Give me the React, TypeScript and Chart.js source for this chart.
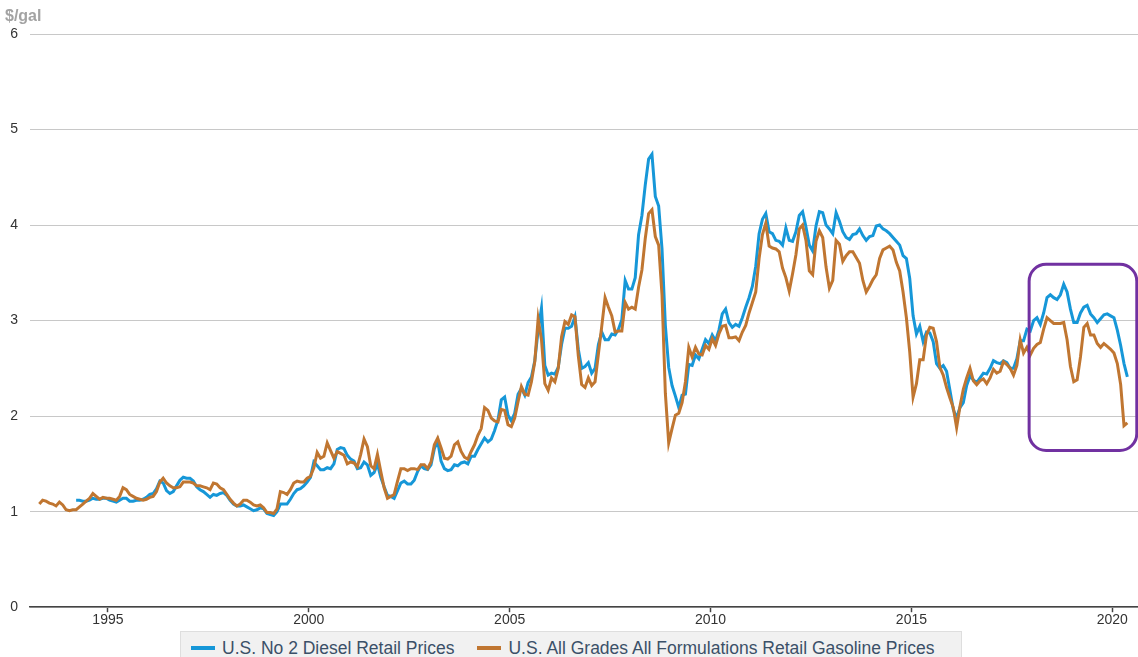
import React, { useEffect, useRef } from "react";
import { Chart, registerables } from "chart.js";

Chart.register(...registerables);

// ---------- data ----------
const UNIT_LABEL = "$/gal";
const SERIES_NAMES = [
  "U.S. No 2 Diesel Retail Prices",
  "U.S. All Grades All Formulations Retail Gasoline Prices",
];
const SERIES_COLORS = ["#1697d8", "#c07631"];

// monthly values, first value is for the start month
const DIESEL_START = { year: 1994, month: 3 };
const DIESEL = [
  1.12, 1.12, 1.11, 1.11, 1.12, 1.14, 1.13, 1.13, 1.14, 1.14,
  1.12, 1.11, 1.10, 1.12, 1.14, 1.14, 1.11, 1.11, 1.12, 1.12, 1.13, 1.15,
  1.18, 1.19, 1.24, 1.32, 1.30, 1.22, 1.19, 1.21, 1.27, 1.33, 1.36, 1.35,
  1.35, 1.32, 1.26, 1.23, 1.21, 1.18, 1.15, 1.18, 1.17, 1.19, 1.20, 1.17,
  1.12, 1.08, 1.06, 1.06, 1.07, 1.05, 1.03, 1.01, 1.02, 1.04, 1.03, 0.98,
  0.97, 0.96, 1.00, 1.08, 1.08, 1.08, 1.13, 1.19, 1.23, 1.24, 1.27, 1.31,
  1.36, 1.52, 1.48, 1.44, 1.44, 1.46, 1.45, 1.50, 1.65, 1.67, 1.66, 1.59,
  1.55, 1.53, 1.45, 1.46, 1.52, 1.49, 1.38, 1.41, 1.50, 1.36, 1.26, 1.17,
  1.16, 1.14, 1.22, 1.30, 1.32, 1.29, 1.29, 1.33, 1.42, 1.48, 1.45, 1.44,
  1.49, 1.66, 1.74, 1.53, 1.45, 1.43, 1.44, 1.49, 1.48, 1.51, 1.52, 1.50,
  1.58, 1.58, 1.65, 1.71, 1.77, 1.73, 1.76, 1.85, 1.96, 2.17, 2.20, 2.01,
  1.95, 2.03, 2.23, 2.29, 2.22, 2.35, 2.41, 2.58, 2.90, 3.13, 2.53, 2.43,
  2.45, 2.44, 2.51, 2.75, 2.92, 2.92, 2.94, 3.04, 2.70, 2.50, 2.52, 2.56,
  2.45, 2.50, 2.75, 2.88, 2.80, 2.80, 2.86, 2.85, 2.91, 3.01, 3.42, 3.33,
  3.33, 3.45, 3.90, 4.10, 4.42, 4.69, 4.74, 4.30, 4.20, 3.75, 2.95, 2.51,
  2.32, 2.21, 2.09, 2.22, 2.23, 2.54, 2.53, 2.64, 2.60, 2.70, 2.80, 2.76,
  2.85, 2.79, 2.90, 3.07, 3.12, 2.98, 2.93, 2.96, 2.94, 3.03, 3.14, 3.24,
  3.36, 3.57, 3.91, 4.06, 4.12, 3.93, 3.91, 3.84, 3.83, 3.79, 3.97, 3.84,
  3.83, 3.93, 4.10, 4.14, 3.98, 3.79, 3.73, 3.99, 4.14, 4.13, 4.00, 3.96,
  3.91, 4.13, 4.04, 3.93, 3.87, 3.85, 3.90, 3.91, 3.96, 3.89, 3.84, 3.88,
  3.89, 3.99, 4.00, 3.96, 3.94, 3.91, 3.87, 3.83, 3.79, 3.68, 3.65, 3.44,
  3.05, 2.86, 2.94, 2.78, 2.88, 2.87, 2.78, 2.55, 2.50, 2.53, 2.47, 2.27,
  2.07, 1.98, 2.09, 2.14, 2.32, 2.42, 2.38, 2.35, 2.40, 2.45, 2.44, 2.50,
  2.58, 2.56, 2.55, 2.58, 2.56, 2.50, 2.50, 2.60, 2.79, 2.79, 2.91, 2.89,
  3.00, 3.03, 2.96, 3.08, 3.24, 3.27, 3.24, 3.22, 3.27, 3.38, 3.30, 3.12,
  2.98, 2.98, 3.08, 3.14, 3.16, 3.07, 3.03, 2.98, 3.02, 3.06, 3.07, 3.05,
  3.03, 2.90, 2.74, 2.55, 2.41,
];

const GAS_START = { year: 1993, month: 4 };
const GASOLINE = [
  1.08, 1.12, 1.11, 1.09, 1.08, 1.06, 1.10, 1.07, 1.02,
  1.01, 1.02, 1.02, 1.05, 1.08, 1.11, 1.14, 1.19, 1.16, 1.13, 1.15, 1.14,
  1.14, 1.13, 1.12, 1.16, 1.25, 1.23, 1.18, 1.16, 1.14, 1.13, 1.12, 1.13,
  1.15, 1.16, 1.21, 1.31, 1.35, 1.30, 1.27, 1.25, 1.25, 1.26, 1.31, 1.31,
  1.31, 1.30, 1.27, 1.27, 1.26, 1.25, 1.23, 1.30, 1.29, 1.25, 1.23, 1.18,
  1.13, 1.09, 1.06, 1.08, 1.12, 1.12, 1.10, 1.07, 1.06, 1.07, 1.04, 0.99,
  0.99, 0.98, 1.03, 1.21, 1.20, 1.18, 1.23, 1.30, 1.32, 1.31, 1.31, 1.35,
  1.37, 1.46, 1.62, 1.56, 1.58, 1.72, 1.64, 1.56, 1.63, 1.61, 1.59, 1.50,
  1.52, 1.51, 1.47, 1.60, 1.76, 1.68, 1.48, 1.45, 1.60, 1.42, 1.25, 1.14,
  1.16, 1.18, 1.32, 1.45, 1.45, 1.43, 1.45, 1.45, 1.44, 1.49, 1.49, 1.45,
  1.52, 1.70, 1.77, 1.67, 1.56, 1.55, 1.58, 1.70, 1.73, 1.63, 1.57, 1.55,
  1.63, 1.70, 1.80, 1.87, 2.09, 2.06, 1.98, 1.95, 1.94, 2.07, 2.06, 1.91,
  1.89, 1.98, 2.15, 2.31, 2.23, 2.22, 2.36, 2.57, 3.02, 2.80, 2.34, 2.27,
  2.40, 2.36, 2.50, 2.83, 2.99, 2.96, 3.06, 3.04, 2.63, 2.33, 2.30, 2.40,
  2.32, 2.36, 2.65, 2.94, 3.24, 3.14, 3.05, 2.88, 2.89, 2.89, 3.19, 3.12,
  3.14, 3.12, 3.35, 3.53, 3.86, 4.12, 4.16, 3.88, 3.79, 3.27, 2.24, 1.72,
  1.87, 2.01, 2.03, 2.14, 2.36, 2.72, 2.62, 2.72, 2.65, 2.64, 2.74, 2.70,
  2.81, 2.74, 2.86, 2.94, 2.95, 2.82, 2.82, 2.83, 2.79, 2.88, 2.95, 3.08,
  3.19, 3.30, 3.65, 3.90, 4.02, 3.78, 3.76, 3.75, 3.72, 3.55, 3.45, 3.31,
  3.49, 3.69, 3.96, 4.00, 3.84, 3.52, 3.48, 3.83, 3.94, 3.87, 3.56, 3.34,
  3.42, 3.84, 3.80, 3.62, 3.68, 3.72, 3.72, 3.66, 3.60, 3.42, 3.30, 3.36,
  3.43, 3.48, 3.65, 3.74, 3.76, 3.78, 3.74, 3.61, 3.52, 3.30, 3.03, 2.67,
  2.20, 2.34, 2.59, 2.59, 2.85, 2.93, 2.92, 2.78, 2.51, 2.43, 2.30, 2.19,
  2.09, 1.88, 2.10, 2.28, 2.40, 2.50, 2.37, 2.33, 2.37, 2.39, 2.34, 2.40,
  2.49, 2.45, 2.47, 2.57, 2.54, 2.50, 2.43, 2.53, 2.80, 2.66, 2.72, 2.64,
  2.71, 2.75, 2.77, 2.91, 3.03, 3.00, 2.97, 2.97, 2.97, 2.98, 2.80, 2.52,
  2.36, 2.38, 2.62, 2.93, 2.97, 2.85, 2.85, 2.76, 2.72, 2.76, 2.73, 2.70,
  2.66, 2.55, 2.33, 1.90, 1.93,
];

const X_TICKS = [1995, 2000, 2005, 2010, 2015, 2020];
const Y_TICKS = [0, 1, 2, 3, 4, 5, 6];
const X_RANGE = [1993.06, 2020.64];
const Y_RANGE = [0, 6];
// highlighted region (data coordinates)
const HIGHLIGHT = { xFrom: 2017.93, xTo: 2020.61, yFrom: 1.64, yTo: 3.59 };

const FONT = "'Liberation Sans', Arial, Helvetica, sans-serif";

function toPoints(start: { year: number; month: number }, values: number[]) {
  return values.map((v, i) => ({
    x: start.year + (start.month - 1 + i + 0.5) / 12,
    y: v,
  }));
}

const unitLabelPlugin = {
  id: "unitLabel",
  afterDraw(chart: any) {
    const ctx = chart.ctx;
    ctx.save();
    ctx.font = `bold 16px ${FONT}`;
    ctx.fillStyle = "#a3a3a3";
    ctx.textBaseline = "alphabetic";
    ctx.textAlign = "left";
    ctx.fillText(UNIT_LABEL, 5, 21);
    ctx.restore();
  },
};

const highlightPlugin = {
  id: "highlightBox",
  afterDatasetsDraw(chart: any) {
    const { ctx, scales } = chart;
    const x0 = scales.x.getPixelForValue(HIGHLIGHT.xFrom);
    const x1 = scales.x.getPixelForValue(HIGHLIGHT.xTo);
    const y0 = scales.y.getPixelForValue(HIGHLIGHT.yTo);
    const y1 = scales.y.getPixelForValue(HIGHLIGHT.yFrom);
    ctx.save();
    ctx.strokeStyle = "#7131a1";
    ctx.lineWidth = 3;
    ctx.beginPath();
    ctx.roundRect(x0, y0, x1 - x0, y1 - y0, 17);
    ctx.stroke();
    ctx.restore();
  },
};

export default function App() {
  const canvasRef = useRef<HTMLCanvasElement | null>(null);

  useEffect(() => {
    if (!canvasRef.current) return;
    Chart.defaults.font.family = FONT;
    const chart = new Chart(canvasRef.current, {
      type: "line",
      data: {
        datasets: [
          {
            label: SERIES_NAMES[0],
            data: toPoints(DIESEL_START, DIESEL),
            borderColor: SERIES_COLORS[0],
            backgroundColor: SERIES_COLORS[0],
            borderWidth: 3,
            pointRadius: 0,
            tension: 0,
            order: 1,
          },
          {
            label: SERIES_NAMES[1],
            data: toPoints(GAS_START, GASOLINE),
            borderColor: SERIES_COLORS[1],
            backgroundColor: SERIES_COLORS[1],
            borderWidth: 3,
            pointRadius: 0,
            tension: 0,
            order: 0,
          },
        ],
      },
      options: {
        responsive: false,
        animation: false,
        layout: { padding: { left: 5, right: 0, top: 34, bottom: 28 } },
        plugins: {
          legend: { display: false },
          tooltip: { enabled: false },
        },
        scales: {
          x: {
            type: "linear",
            min: X_RANGE[0],
            max: X_RANGE[1],
            afterBuildTicks(scale: any) {
              scale.ticks = X_TICKS.map((v) => ({ value: v }));
            },
            grid: {
              drawOnChartArea: false,
              drawTicks: true,
              tickLength: 5,
              tickColor: "#444",
              tickWidth: 1.5,
            },
            border: { display: true, color: "#444", width: 1.5 },
            ticks: {
              color: "#333",
              padding: 0,
              font: { size: 14 },
              autoSkip: false,
              maxRotation: 0,
              callback: (v: any) => String(v),
            },
          },
          y: {
            min: Y_RANGE[0],
            max: Y_RANGE[1],
            afterBuildTicks(scale: any) {
              scale.ticks = Y_TICKS.map((v) => ({ value: v }));
            },
            afterFit(scale: any) {
              scale.width = 25;
            },
            grid: { color: "#c8c8c8", lineWidth: 1, drawTicks: false },
            border: { display: false },
            ticks: {
              color: "#333",
              padding: 12,
              font: { size: 14 },
            },
          },
        },
      },
      plugins: [unitLabelPlugin, highlightPlugin],
    });
    return () => chart.destroy();
  }, []);

  return (
    <div
      style={{
        position: "absolute",
        left: 0,
        top: 0,
        width: 1138,
        height: 657,
        overflow: "hidden",
        background: "#fff",
      }}
    >
      <canvas ref={canvasRef} width={1138} height={657} style={{ display: "block" }} />
      <div
        style={{
          position: "absolute",
          left: 180,
          top: 631,
          width: 782,
          height: 36,
          boxSizing: "border-box",
          background: "#f1f1f1",
          border: "1px solid #dedede",
          display: "flex",
          alignItems: "center",
          paddingLeft: 10,
          paddingBottom: 2,
          fontFamily: FONT,
          fontSize: 17.5,
          color: "#3b5068",
          whiteSpace: "nowrap",
        }}
      >
        {SERIES_NAMES.map((name, i) => (
          <div
            key={name}
            style={{ display: "flex", alignItems: "center", marginLeft: i === 0 ? 0 : 23 }}
          >
            <span
              style={{
                display: "inline-block",
                width: 24,
                height: 4,
                background: SERIES_COLORS[i],
                marginRight: 7,
              }}
            />
            <span>{name}</span>
          </div>
        ))}
      </div>
    </div>
  );
}
